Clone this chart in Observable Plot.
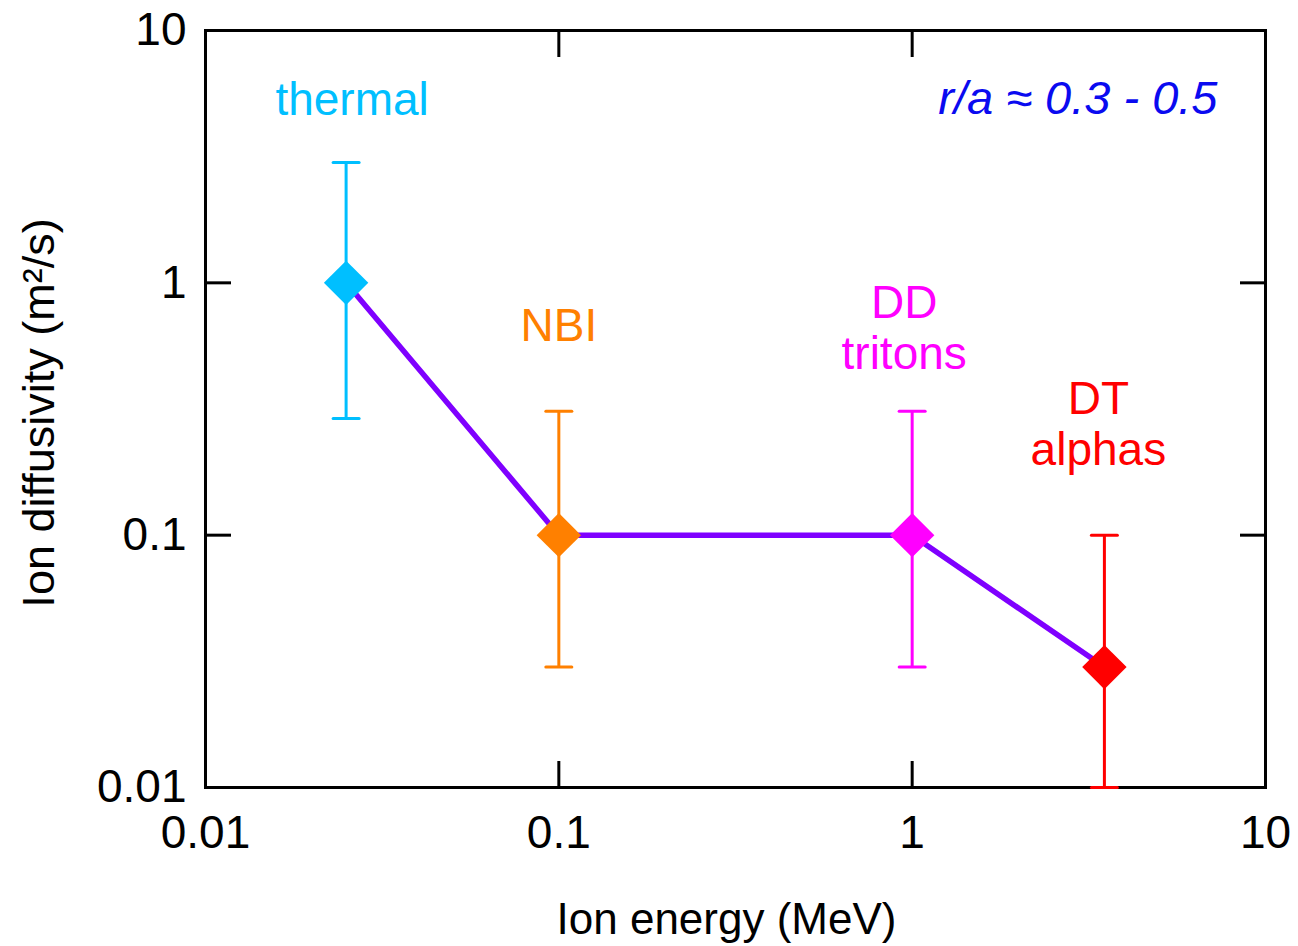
<!DOCTYPE html>
<html>
<head>
<meta charset="utf-8">
<script src="https://cdn.jsdelivr.net/npm/d3@7"></script>
<script src="https://cdn.jsdelivr.net/npm/@observablehq/plot@0.6"></script>
<style>
  html, body { margin: 0; padding: 0; background: #ffffff; }
  #chart svg { display: block; }
</style>
</head>
<body>
<div id="chart"></div>
<script>
// ---- data ----
const species = ["thermal", "NBI", "DD\ntritons", "DT\nalphas"];
const energy = [0.025, 0.1, 1, 3.5];            // MeV
const diffusivity = [1, 0.1, 0.1, 0.03];        // m^2/s
const errLow = [0.29, 0.03, 0.03, 0.01];
const errHigh = [3, 0.31, 0.31, 0.1];
const speciesColors = ["#00bfff", "#ff8000", "#ff00ff", "#ff0000"];
const xTicks = [0.01, 0.1, 1, 10];
const xTickLabels = ["0.01", "0.1", "1", "10"];
const yTicks = [0.01, 0.1, 1, 10];
const yTickLabels = ["0.01", "0.1", "1", "10"];
const xLabel = "Ion energy (MeV)";
const yLabel = "Ion diffusivity (m²/s)";
const note = "r/a ≈ 0.3 - 0.5";

// ---- layout / style ----
const labelOffsets = [
  {dx: 6, dy: -184},
  {dx: 0, dy: -210},
  {dx: -8, dy: -208},
  {dx: -6, dy: -244}
];
const font = "'Liberation Sans', Arial, Helvetica, sans-serif";

const rows = species.map((s, i) => ({
  name: s, energy: energy[i], d: diffusivity[i], lo: errLow[i], hi: errHigh[i], color: speciesColors[i]
}));

const capShape = {
  draw(context, l) { context.moveTo(0, 0); context.lineTo(0, -l); }
};

const xFmt = (d) => xTickLabels[xTicks.indexOf(d)];
const yFmt = (d) => yTickLabels[yTicks.indexOf(d)];

const chart = Plot.plot({
  width: 1298,
  height: 946,
  marginLeft: 205,
  marginRight: 33,
  marginTop: 30,
  marginBottom: 159,
  style: {fontFamily: font, background: "#ffffff", color: "#000000"},
  x: {type: "log", domain: [0.01, 10]},
  y: {type: "log", domain: [0.01, 10]},
  color: {type: "identity"},
  marks: [
    Plot.frame({stroke: "#000000", strokeWidth: 3}),
    Plot.axisX(xTicks, {anchor: "bottom", tickSize: -26, tickPadding: 54, strokeWidth: 3, fontSize: 46, tickFormat: xFmt, label: null}),
    Plot.axisX(xTicks, {anchor: "top", tickSize: -26, strokeWidth: 3, tickFormat: () => "", label: null}),
    Plot.axisY(yTicks, {anchor: "left", tickSize: -26, tickPadding: 45, strokeWidth: 3, fontSize: 46, tickFormat: yFmt, label: null}),
    Plot.axisY(yTicks, {anchor: "right", tickSize: -26, strokeWidth: 3, tickFormat: () => "", label: null}),
    Plot.text([xLabel], {frameAnchor: "bottom", textAnchor: "middle", dx: -9, dy: 132, fontSize: 44, lineAnchor: "middle", fill: "#000000"}),
    Plot.text([yLabel], {frameAnchor: "left", textAnchor: "middle", rotate: -90, dx: -166, dy: 4, fontSize: 45, lineAnchor: "middle", fill: "#000000"}),
    Plot.line(rows, {x: "energy", y: "d", stroke: "#7f00ff", strokeWidth: 5.5}),
    Plot.ruleX(rows, {x: "energy", y1: "lo", y2: "hi", stroke: "color", strokeWidth: 3}),
    Plot.vector(rows, {x: "energy", y: "lo", length: 26, rotate: 90, anchor: "middle", shape: capShape, stroke: "color", strokeWidth: 3}),
    Plot.vector(rows, {x: "energy", y: "hi", length: 26, rotate: 90, anchor: "middle", shape: capShape, stroke: "color", strokeWidth: 3}),
    Plot.dot(rows, {x: "energy", y: "d", symbol: "diamond2", r: 20, fill: "color", stroke: null}),
    ...rows.map((r, i) => Plot.text([r], {
      x: "energy", y: "d", text: "name", fill: "color",
      dx: labelOffsets[i].dx, dy: labelOffsets[i].dy,
      fontSize: 46, lineHeight: 1.1, lineAnchor: "middle", textAnchor: "middle"
    })),
    Plot.text([note], {frameAnchor: "top-right", textAnchor: "end", lineAnchor: "middle", dx: -48, dy: 68, fontSize: 47, fontStyle: "italic", fill: "#0a0af0"})
  ]
});

document.getElementById("chart").appendChild(chart);
</script>
</body>
</html>
